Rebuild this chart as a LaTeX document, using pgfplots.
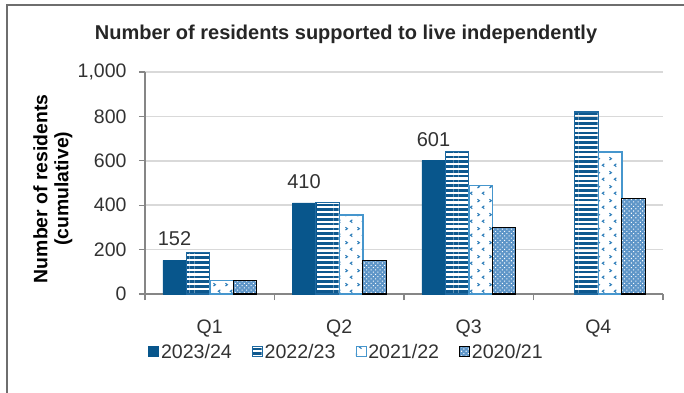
\documentclass[border=0pt]{standalone}
\usepackage{pgfplots}
\pgfplotsset{compat=1.18}
\usepackage{fontspec}
\setmainfont{Liberation Sans}
\usetikzlibrary{patterns,patterns.meta}
\definecolor{cdark}{RGB}{8,86,140}
\definecolor{cstripe}{RGB}{14,88,142}
\definecolor{cstripeb}{RGB}{30,105,160}
\definecolor{clight}{RGB}{70,150,205}
\definecolor{cchev}{RGB}{45,125,185}
\definecolor{ccheck}{RGB}{95,150,200}
\definecolor{cgrid}{RGB}{217,217,217}
\definecolor{caxis}{RGB}{134,134,134}
\definecolor{ctext}{RGB}{50,50,50}
\definecolor{cframe}{RGB}{110,110,110}
\tikzdeclarepattern{
  name=chevrons,
  type=uncolored,
  bottom left={(0pt,0pt)},
  top right={(11.75pt,14pt)},
  tile size={(11.75pt,14pt)},
  code={
    \tikzset{x=1pt,y=1pt}
    \draw[line width=1.1pt] (2.5,12.5) -- (4.5,11) -- (2.5,9.5);
    \draw[line width=1.1pt] (9.5,5.5) -- (7.5,4) -- (9.5,2.5);
  }
}
\begin{document}
\begin{tikzpicture}
\path[use as bounding box] (0pt,0pt) rectangle (684pt,392pt);
\draw[cframe,line width=2pt] (7pt,-2pt) -- (7pt,387pt) -- (690pt,387pt);
\node[font=\bfseries\fontsize{20}{24}\selectfont,text=black!85] at (346pt,358pt) {Number of residents supported to live independently};
\begin{axis}[
  at={(145pt,98pt)}, anchor=south west,
  scale only axis, width=518pt, height=222pt,
  xmin=-0.5, xmax=3.5, ymin=0, ymax=1000,
  ybar=0pt, bar width=23.5pt,
  axis x line*=bottom, axis y line*=left,
  axis line style={caxis,line width=1.2pt},
  xtick={0,1,2,3}, xticklabels={Q1,Q2,Q3,Q4},
  minor xtick={-0.5,0.5,1.5,2.5,3.5},
  major x tick style={draw=none},
  minor x tick style={caxis,line width=1.2pt},
  ytick={0,200,400,600,800,1000},
  y tick style={caxis,line width=1.2pt},
  tick align=outside, major tick length=6pt, minor tick length=6pt,
  ymajorgrids, grid style={cgrid,line width=1.5pt},
  /pgf/number format/1000 sep={,},
  /pgf/number format/assume math mode=true,
  tick label style={font=\fontsize{19.5}{22}\selectfont,text=ctext},
  yticklabel style={xshift=-9pt},
  xticklabel style={yshift=-16pt},
  ylabel={Number of residents\\(cumulative)},
  ylabel style={font=\bfseries\fontsize{19.4}{21}\selectfont,align=center,text=black,at={(rel axis cs:-0.178,0.474)},anchor=center},
  legend columns=4,
  legend style={draw=none,fill=none,at={(rel axis cs:0.0,-0.26)},anchor=west,
    font=\fontsize{19.6}{21}\selectfont,text=ctext,
    /tikz/every even column/.append style={column sep=18pt}},
  legend image code/.code={\draw[#1,line width=0.8pt] (0pt,-5pt) rectangle (10pt,5pt);},
]
\addplot[fill=cdark,draw=cdark,
  nodes near coords, nodes near coords style={font=\fontsize{20}{22}\selectfont,text=ctext,inner sep=0pt,anchor=south,yshift=14pt},
  /pgf/number format/assume math mode=true]
  coordinates {(0,152) (1,410) (2,601)};
\addplot[draw=cstripeb,line width=1.2pt,pattern={Lines[angle=0,distance=4.8pt,line width=2.6pt]},pattern color=cstripe]
  coordinates {(0,188) (1,413) (2,642) (3,820)};
\addplot[draw=clight,line width=1.5pt,fill=white,postaction={pattern=chevrons,pattern color=cchev}]
  coordinates {(0,60) (1,355) (2,488) (3,640)};
\addplot[draw=black,line width=1.3pt,fill=ccheck,postaction={pattern={Dots[distance=3.2pt,radius=0.75pt,angle=45]},pattern color=white}]
  coordinates {(0,60) (1,150) (2,300) (3,430)};
\legend{2023/24,2022/23,2021/22,2020/21}
\end{axis}
\end{tikzpicture}
\end{document}
